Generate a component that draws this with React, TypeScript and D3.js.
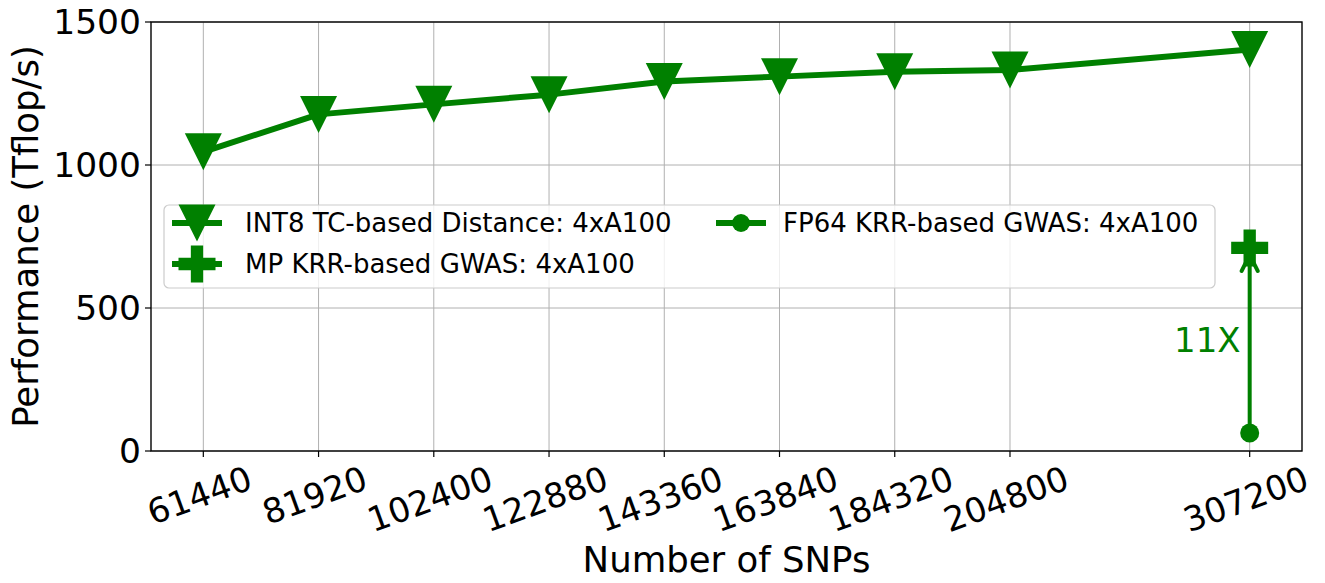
import React from "react";
import * as d3 from "d3";

// Problem sizes (number of SNPs) and where each sits along the category axis
const snpLabels = ["61440", "81920", "102400", "122880", "143360", "163840", "184320", "204800", "307200"];
const snpSlot = [0, 1, 2, 3, 4, 5, 6, 7, 9.08];

// Sustained performance in Tflop/s
const int8DistancePerf = [1046, 1177, 1212, 1246, 1292, 1309, 1326, 1332, 1404];
const mpGwasSnp = "307200";
const mpGwasPerf = 710;
const fp64GwasSnp = "307200";
const fp64GwasPerf = 63;

const yTicks = [0, 500, 1000, 1500];
const speedupLabel = "11X";

const seriesNames = {
  int8: "INT8 TC-based Distance: 4xA100",
  mp: "MP KRR-based GWAS: 4xA100",
  fp64: "FP64 KRR-based GWAS: 4xA100",
};

const GREEN = "#008000";
const FONT = "'DejaVu Sans', sans-serif";

const W = 1325;
const H = 583;
const M = { left: 151, right: 1302, top: 22, bottom: 451 };

function triDown(cx: number, cy: number, s: number) {
  const h = s / 2;
  return `M${cx},${cy + h}L${cx - h},${cy - h}L${cx + h},${cy - h}Z`;
}

function plusFilled(cx: number, cy: number, s: number) {
  const a = s / 2;
  const b = s / 6;
  const pts = [
    [-b, -a], [b, -a], [b, -b], [a, -b], [a, b], [b, b],
    [b, a], [-b, a], [-b, b], [-a, b], [-a, -b], [-b, -b],
  ];
  return "M" + pts.map(([x, y]) => `${cx + x},${cy + y}`).join("L") + "Z";
}

export default function App() {
  const slotOf = (label: string) => snpSlot[snpLabels.indexOf(label)];
  const span = snpSlot[snpSlot.length - 1] - snpSlot[0];
  const x = d3
    .scaleLinear()
    .domain([snpSlot[0] - span * 0.05, snpSlot[snpSlot.length - 1] + span * 0.05])
    .range([M.left, M.right]);
  const y = d3.scaleLinear().domain([0, 1500]).range([M.bottom, M.top]);

  const int8Points = snpLabels.map((l, i) => [x(snpSlot[i]), y(int8DistancePerf[i])] as [number, number]);
  const linePath = d3.line()(int8Points) as string;

  const tickFont = 34;
  const markerSize = 37;

  const mpX = x(slotOf(mpGwasSnp));
  const mpY = y(mpGwasPerf);
  const fpX = x(slotOf(fp64GwasSnp));
  const fpY = y(fp64GwasPerf);
  const arrowTip = mpY + 7;

  // Legend layout
  const lg = { x: 164, y: 205, w: 1051, h: 83 };
  const row1 = 223;
  const row2 = 264;
  const col1 = 172;
  const col2 = 716;
  const handleLen = 50;
  const legendFont = 26;

  return (
    <svg width={W} height={H} style={{ display: "block", position: "absolute", left: 0, top: 0 }} fontFamily={FONT}>
      <rect width={W} height={H} fill="#fff" />

      {/* grid */}
      <g stroke="#b0b0b0" strokeWidth={1}>
        {snpSlot.map((s, i) => (
          <line key={"gx" + i} x1={x(s)} x2={x(s)} y1={M.top} y2={M.bottom} />
        ))}
        {yTicks.map((t) => (
          <line key={"gy" + t} x1={M.left} x2={M.right} y1={y(t)} y2={y(t)} />
        ))}
      </g>

      {/* INT8 distance series */}
      <path d={linePath} fill="none" stroke={GREEN} strokeWidth={6} strokeLinejoin="round" />
      {int8Points.map(([px, py], i) => (
        <path key={"tri" + i} d={triDown(px, py, markerSize)} fill={GREEN} />
      ))}

      {/* speedup arrow from FP64 to mixed precision */}
      <line x1={fpX} x2={mpX} y1={fpY} y2={arrowTip} stroke={GREEN} strokeWidth={4} />
      <path
        d={`M${mpX - 8},${arrowTip + 16}L${mpX},${arrowTip}L${mpX + 8},${arrowTip + 16}`}
        fill="none"
        stroke={GREEN}
        strokeWidth={4}
        strokeLinecap="round"
        strokeLinejoin="round"
      />
      <path d={plusFilled(mpX, mpY, markerSize)} fill={GREEN} />
      <circle cx={fpX} cy={fpY} r={9.5} fill={GREEN} />
      <text
        x={mpX - 9}
        y={(fpY + mpY) / 2 + 12}
        textAnchor="end"
        fontSize={tickFont}
        fill={GREEN}
      >
        {speedupLabel}
      </text>

      {/* frame */}
      <rect
        x={M.left}
        y={M.top}
        width={M.right - M.left}
        height={M.bottom - M.top}
        fill="none"
        stroke="#000"
        strokeWidth={1.4}
      />

      {/* y axis */}
      {yTicks.map((t) => (
        <g key={"yt" + t}>
          <line x1={M.left - 6} x2={M.left} y1={y(t)} y2={y(t)} stroke="#000" strokeWidth={1.2} />
          <text x={M.left - 10} y={y(t)} dy="0.36em" textAnchor="end" fontSize={34.5} fill="#000">
            {t}
          </text>
        </g>
      ))}
      <text
        transform={`translate(38,${(M.top + M.bottom) / 2}) rotate(-90)`}
        textAnchor="middle"
        fontSize={35.5}
        fill="#000"
      >
        Performance (Tflop/s)
      </text>

      {/* x axis */}
      {snpSlot.map((s, i) => {
        const tx = x(s);
        const w = snpLabels[i].length * 0.636 * tickFont;
        const h = tickFont * 1.1;
        const rad = (20 * Math.PI) / 180;
        const bh = w * Math.sin(rad) + h * Math.cos(rad);
        const cy = M.bottom + 8 + bh / 2;
        return (
          <g key={"xt" + i}>
            <line x1={tx} x2={tx} y1={M.bottom} y2={M.bottom + 6} stroke="#000" strokeWidth={1.2} />
            <text
              transform={`translate(${tx - 4},${cy}) rotate(-20)`}
              textAnchor="middle"
              dy="0.36em"
              fontSize={tickFont}
              fill="#000"
            >
              {snpLabels[i]}
            </text>
          </g>
        );
      })}
      <text x={(M.left + M.right) / 2} y={572} textAnchor="middle" fontSize={35.5} fill="#000">
        Number of SNPs
      </text>

      {/* legend */}
      <rect x={lg.x} y={lg.y} width={lg.w} height={lg.h} rx={5} fill="#fff" fillOpacity={0.8} stroke="#cccccc" strokeWidth={1.2} />
      <line x1={col1} x2={col1 + handleLen} y1={row1} y2={row1} stroke={GREEN} strokeWidth={6} />
      <path d={triDown(col1 + handleLen / 2, row1, markerSize)} fill={GREEN} />
      <text x={245} y={row1} dy="0.36em" fontSize={legendFont} fill="#000">
        {seriesNames.int8}
      </text>
      <line x1={col1} x2={col1 + handleLen} y1={row2} y2={row2} stroke={GREEN} strokeWidth={6} />
      <path d={plusFilled(col1 + handleLen / 2, row2, markerSize)} fill={GREEN} />
      <text x={245} y={row2} dy="0.36em" fontSize={legendFont} fill="#000">
        {seriesNames.mp}
      </text>
      <line x1={col2} x2={col2 + handleLen} y1={row1} y2={row1} stroke={GREEN} strokeWidth={6} />
      <circle cx={col2 + handleLen / 2} cy={row1} r={9} fill={GREEN} />
      <text x={783} y={row1} dy="0.36em" fontSize={legendFont} fill="#000">
        {seriesNames.fp64}
      </text>
    </svg>
  );
}
